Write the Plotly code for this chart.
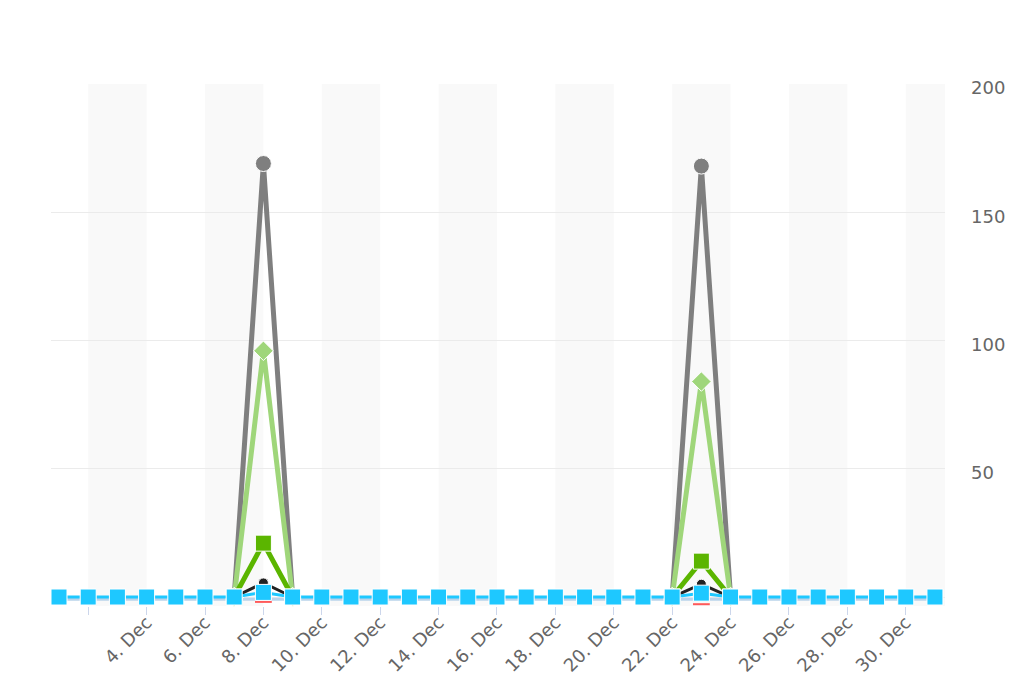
import pandas as pd
import plotly.graph_objects as go

# ---- data ----
dates = pd.date_range("2023-12-01", periods=31, freq="D")
N = None

gray_vals = [N, N, N, N, N, N, 0, 169, 0, N, N, N, N, N, N, N, N, N, N, N, N, 0, 168, 0, N, N, N, N, N, N, N]
lightgreen_vals = [N, N, N, N, N, N, 0, 96, 0, N, N, N, N, N, N, N, N, N, N, N, N, 0, 84, 0, N, N, N, N, N, N, N]
darkgreen_vals = [N, N, N, N, N, N, 0, 21, 0, N, N, N, N, N, N, N, N, N, N, N, N, 0, 14, 0, N, N, N, N, N, N, N]
black_vals = [N, N, N, N, N, N, 0, 5.5, 0, N, N, N, N, N, N, N, N, N, N, N, N, 0, 5, 0, N, N, N, N, N, N, N]
lightblue_vals = [-0.9] * 31
red_vals = [N, N, N, N, N, N, N, -1.9, N, N, N, N, N, N, N, N, N, N, N, N, N, N, -2.8, N, N, N, N, N, N, N, N]
blue_vals = [0, 0, 0, 0, 0, 0, 0, 1.8, 0, 0, 0, 0, 0, 0, 0, 0, 0, 0, 0, 0, 0, 0, 1.5, 0, 0, 0, 0, 0, 0, 0, 0]

tick_dates = pd.date_range("2023-12-02", "2023-12-30", freq="2D")
tick_labels = [""] + [f"{d.day}. Dec" for d in tick_dates[1:]]
y_ticks = [0, 50, 100, 150, 200]
y_labels = ["", "50", "100", "150", "200"]

# ---- figure ----
fig = go.Figure()

def add_line(vals, color, width, symbol, msize, show_marker=True):
    fig.add_trace(go.Scatter(
        x=dates, y=vals, mode="lines+markers" if show_marker else "lines",
        line=dict(color=color, width=width),
        marker=dict(symbol=symbol, size=msize, color=color,
                    line=dict(color="white", width=1)),
        hoverinfo="skip", showlegend=False, cliponaxis=False,
    ))

add_line(lightblue_vals, "#b9d3ea", 3, "circle", 1, show_marker=False)
add_line(gray_vals, "#7f7f7f", 5, "circle", 16)
add_line(lightgreen_vals, "#9fd67a", 5, "diamond", 15)
add_line(darkgreen_vals, "#5bb500", 5, "square", 16)
add_line(black_vals, "#222222", 3, "circle", 10)
fig.add_trace(go.Scatter(
    x=dates, y=red_vals, mode="markers",
    marker=dict(symbol="line-ew", size=12, color="#ff5a5a",
                line=dict(color="#ff5a5a", width=2)),
    hoverinfo="skip", showlegend=False, cliponaxis=False,
))
add_line(blue_vals, "#1ec8ff", 3, "square", 16)

# alternate bands
band_starts = tick_dates[::2]
for s in band_starts:
    e = min(s + pd.Timedelta(days=2), pd.Timestamp("2023-12-31 08:20"))
    fig.add_shape(type="rect", xref="x", yref="paper", x0=s, x1=e, y0=0, y1=1,
                  fillcolor="#f9f9f9", line_width=0, layer="below")

fig.update_layout(
    width=1016, height=675,
    margin=dict(l=43, r=79, t=76, b=77, autoexpand=False),
    paper_bgcolor="white", plot_bgcolor="white",
    font=dict(family="DejaVu Sans", color="#666666", size=16),
    showlegend=False,
)
fig.update_xaxes(
    type="date", automargin=False,
    range=[pd.Timestamp("2023-11-30 17:25"), pd.Timestamp("2023-12-31 08:15")],
    tickvals=list(tick_dates), ticktext=tick_labels,
    tickangle=-45, ticks="outside", ticklen=8, tickwidth=1, tickcolor="#ccd6eb",
    showgrid=False, showline=False, zeroline=False,
    ticklabelstandoff=-10,
    tickfont=dict(size=18, color="#666666"),
)
fig.update_yaxes(
    range=[-3.5, 200], side="right", automargin=False,
    tickvals=y_ticks, ticktext=y_labels,
    showgrid=True, gridcolor="#ebebeb", gridwidth=1,
    zeroline=False, showline=False, ticks="",
    ticklabelstandoff=25, ticklabelshift=4,
    tickfont=dict(size=18, color="#666666"),
)

fig.write_html("out.html")
